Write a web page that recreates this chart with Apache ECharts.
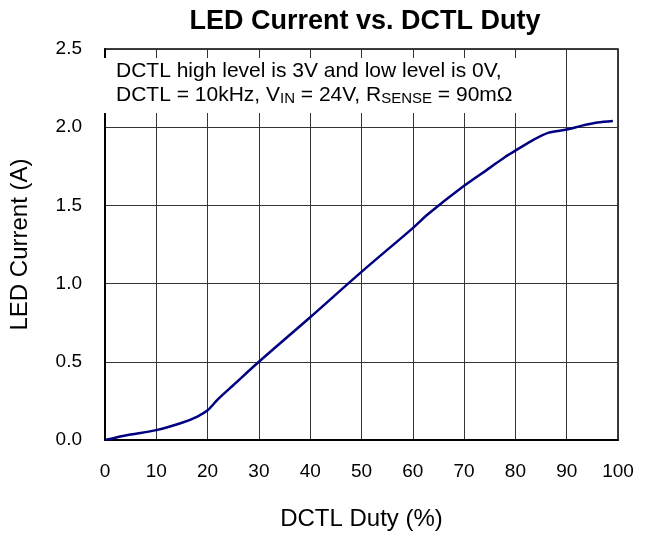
<!DOCTYPE html>
<html>
<head>
<meta charset="utf-8">
<script src="https://cdn.jsdelivr.net/npm/echarts@6/dist/echarts.min.js"></script>
<style>
  html, body { margin: 0; padding: 0; background: #fff; }
  #d_chart { width: 655px; height: 536px; }
</style>
</head>
<body>
<div id="d_chart"></div>
<script>
// duty (%) vs LED current (A)
var dutyData = [0, 2, 5, 10, 15, 18, 20, 22, 25, 30, 40, 50, 60, 63, 70, 75, 78, 80, 83, 86.5, 90, 93, 96, 99]
var currentData = [0, 0.015, 0.035, 0.063, 0.11, 0.15, 0.19, 0.26, 0.35, 0.5, 0.785, 1.075, 1.355, 1.445, 1.625, 1.74, 1.81, 1.85, 1.91, 1.965, 1.985, 2.01, 2.03, 2.04]
var xTicks = [0, 10, 20, 30, 40, 50, 60, 70, 80, 90, 100]
var yTicks = [0, 0.5, 1.0, 1.5, 2.0, 2.5]

var FONT = 'Liberation Sans, Arial, sans-serif'
var chart = echarts.init(document.getElementById('d_chart'))

var points = dutyData.map(function (d, i) { return [d, currentData[i]] })

var option = {
  animation: false,
  backgroundColor: '#fff',
  title: {
    text: 'LED Current vs. DCTL Duty',
    left: 360,
    top: 3,
    textAlign: 'center',
    textStyle: { fontFamily: FONT, fontSize: 27, fontWeight: 'bold', color: '#000' }
  },
  grid: {
    left: 103,
    right: 37,
    top: 49,
    bottom: 87,
    show: true,
    borderColor: '#000',
    borderWidth: 1.5
  },
  xAxis: {
    type: 'value',
    min: xTicks[0],
    max: xTicks[xTicks.length - 1],
    interval: 10,
    name: 'DCTL Duty (%)',
    nameLocation: 'middle',
    nameGap: 67,
    nameTextStyle: { fontFamily: FONT, fontSize: 24, color: '#000' },
    axisLine: { lineStyle: { color: '#000', width: 2 } },
    axisTick: { show: false },
    axisLabel: { fontFamily: FONT, fontSize: 19, color: '#000', margin: 22 },
    splitLine: { lineStyle: { color: '#333', width: 1 } }
  },
  yAxis: {
    type: 'value',
    min: yTicks[0],
    max: yTicks[yTicks.length - 1],
    interval: 0.5,
    name: 'LED Current (A)',
    nameLocation: 'middle',
    nameGap: 73,
    nameTextStyle: { fontFamily: FONT, fontSize: 24, color: '#000' },
    axisLine: { show: true, lineStyle: { color: '#000', width: 2 } },
    axisTick: { show: false },
    axisLabel: {
      fontFamily: FONT, fontSize: 19, color: '#000', margin: 23,
      formatter: function (v) { return v.toFixed(1) }
    },
    splitLine: { lineStyle: { color: '#333', width: 1 } }
  },
  graphic: [{
    type: 'rect',
    left: 104,
    top: 58,
    shape: { width: 440, height: 55 },
    style: { fill: '#fff' },
    z: 100
  }, {
    type: 'text',
    left: 116,
    top: 59,
    z: 101,
    style: {
      text: 'DCTL high level is 3V and low level is 0V,\nDCTL = 10kHz, V{sub|IN} = 24V, R{sub|SENSE} = 90mΩ',
      font: '21px ' + FONT,
      fill: '#000',
      lineHeight: 24,
      rich: {
        sub: { fontSize: 15, fontFamily: FONT, fill: '#000', padding: [8, 0, 0, 0], lineHeight: 24 }
      }
    }
  }],
  series: [{
    type: 'line',
    data: points,
    smooth: 0.3,
    showSymbol: false,
    lineStyle: { color: '#000080', width: 2.5 },
    z: 5
  }]
}
chart.setOption(option, true)
</script>
</body>
</html>
